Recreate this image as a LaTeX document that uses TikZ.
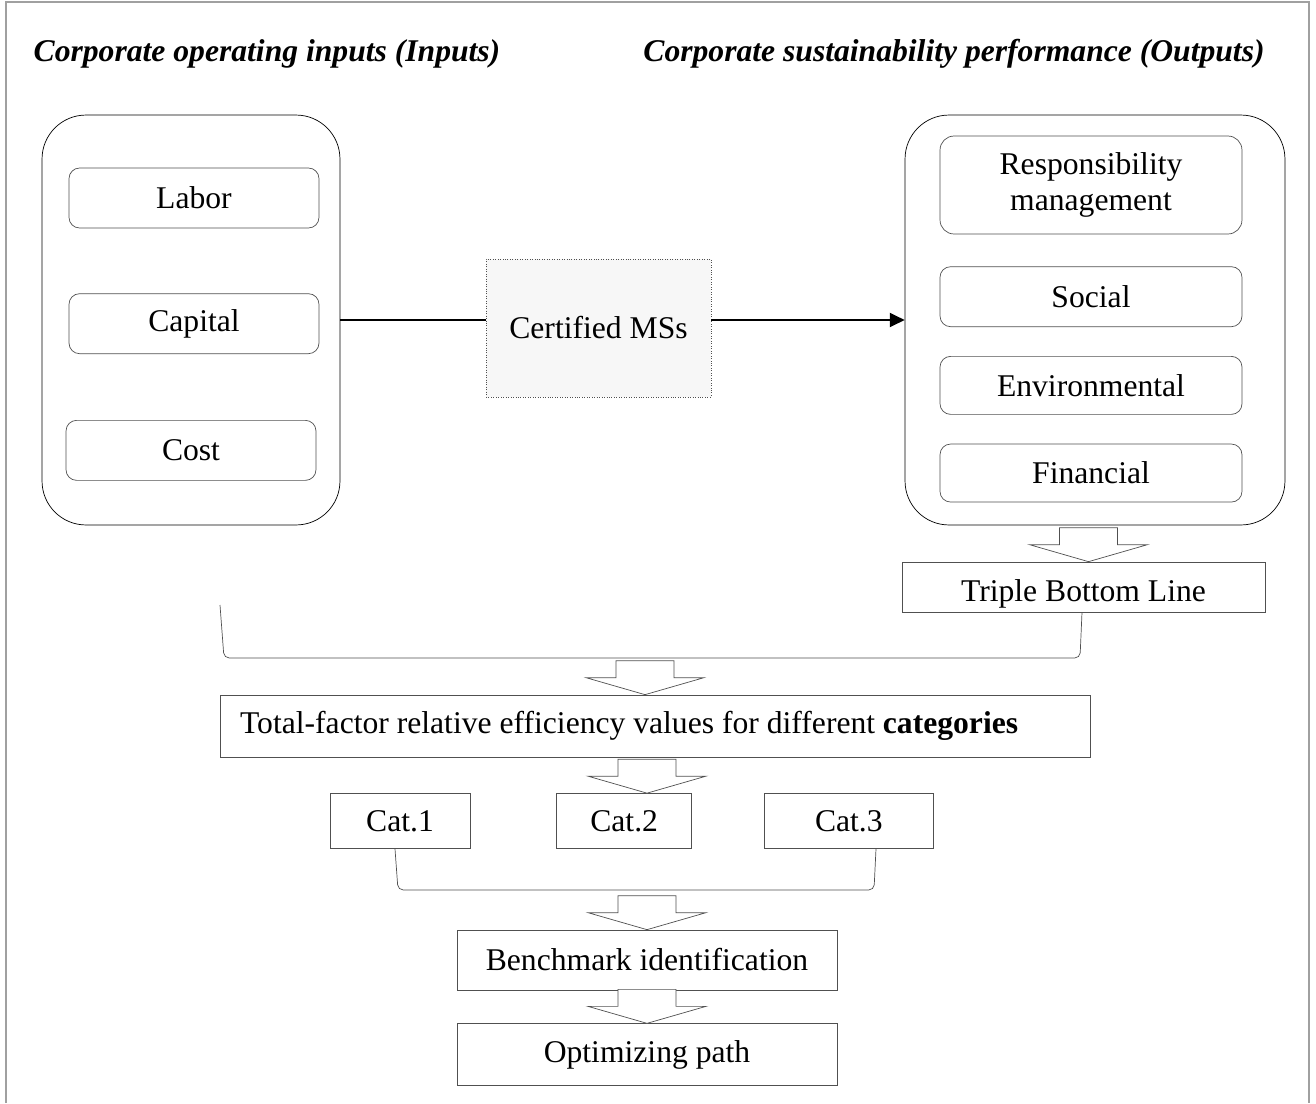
\documentclass[tikz,border=0pt]{standalone}
\usepackage{fontspec}
\setmainfont{Liberation Serif}
\usetikzlibrary{arrows.meta, positioning, calc}
\definecolor{framegray}{RGB}{160,160,160}
\definecolor{linegray}{RGB}{80,80,80}
\definecolor{msfill}{RGB}{247,247,247}
\tikzset{
  bigbox/.style   = {draw, rounded corners=25pt, minimum height=8.2cm},
  itembox/.style  = {draw=linegray, rounded corners=6pt, minimum width=6.04cm,
                     minimum height=1.16cm, align=center},
  plainbox/.style = {draw=linegray, minimum height=1.2cm},
  msbox/.style    = {draw=linegray, densely dotted, fill=msfill,
                     minimum width=4.5cm, minimum height=2.76cm},
  title/.style    = {font=\fontsize{18}{21}\selectfont\bfseries\itshape},
  bracket/.style  = {draw=linegray, rounded corners=3pt},
  arrow/.style    = {-{Triangle[length=8.5pt, width=8pt]}, line width=1pt},
  downarr/.pic    = {
    \draw[draw=linegray, fill=white] (-29,-34) -- (-29,-17) -- (-59,-17)
      -- (0,0) -- (59,-17) -- (29,-17) -- (29,-34) -- cycle;
  },
}

\begin{document}
\begin{tikzpicture}[x=0.02cm, y=-0.02cm,
    every node/.style={font=\fontsize{18}{20.5}\selectfont}]
  \useasboundingbox (0,0) rectangle (1316,1103);
  % frame
  \draw[framegray, line width=0.8pt] (6,1103) -- (6,2) -- (1309,2) -- (1309,1103);

  % headings
  \node[title] (tin)  at (267,54) {Corporate operating inputs (Inputs)};
  \node[title] (tout) at (954,54) {Corporate sustainability performance (Outputs)};

  % inputs
  \node[bigbox, minimum width=5.96cm] (lbox) at (191,320) {};
  \node[itembox, minimum width=5cm, minimum height=1.2cm] (labor) at (194,198) {Labor};
  \node[itembox, minimum width=5cm, minimum height=1.2cm, below=1.3cm of labor] (capital) {Capital};
  \node[itembox, minimum width=5cm, minimum height=1.2cm, below=1.32cm of capital,
        xshift=-0.06cm] (cost) {Cost};

  % management systems
  \node[msbox] (cms) at (598.5,328) {Certified MSs};

  % outputs
  \node[bigbox, minimum width=7.6cm] (rbox) at (1095,320) {};
  \node[itembox, minimum height=1.96cm, rounded corners=8pt] (resp) at (1091,185)
        {Responsibility\\management};
  \node[itembox, minimum height=1.2cm, below=0.64cm of resp] (social) {Social};
  \node[itembox, below=0.58cm of social] (env) {Environmental};
  \node[itembox, below=0.58cm of env] (fin) {Financial};

  \draw[line width=1pt] (lbox.east) -- (lbox.east -| cms.west);
  \draw[arrow] (cms.east |- lbox.east) -- (rbox.west);

  % triple bottom line
  \node[plainbox, minimum width=7.26cm, minimum height=1cm,
        label={[yshift=-0.14cm]center:Triple Bottom Line}] (tbl) at (1083.5,587) {};
  \pic at ($(tbl.north)+(5,0)$) {downarr};

  % joining inputs and outputs
  \coordinate (lin) at (220,605);
  \draw[bracket] (lin) -- (224,658) -- (1080,658) -- (tbl.south -| 1082,0);
  \node[plainbox, minimum width=17.4cm, minimum height=1.24cm, inner xsep=0.4cm] (total)
        at (655,726)
        {\makebox[16.6cm][l]{Total-factor relative efficiency values for different \textbf{categories}}};
  \pic at (total.north -| 645,0) {downarr};

  % categories
  \node[plainbox, minimum width=2.8cm, minimum height=1.1cm] (cat1) at (400,821) {Cat.1};
  \node[plainbox, minimum width=2.7cm, minimum height=1.1cm, right=1.72cm of cat1] (cat2) {Cat.2};
  \node[plainbox, minimum width=3.38cm, minimum height=1.1cm, right=1.44cm of cat2] (cat3) {Cat.3};

  % benchmarking
  \node[plainbox, minimum width=7.6cm] (bench) at (647,960) {Benchmark identification};
  \node[plainbox, minimum width=7.6cm, minimum height=1.24cm, below=0.66cm of bench] (optim)
        {Optimizing path};
  \pic at (cat2.north -| bench.north) {downarr};

  \draw[bracket] (cat1.south -| 395,0) -- (398,890) -- (874,890) -- (cat3.south -| 876,0);
  \pic at (bench.north) {downarr};
  \pic at (optim.north) {downarr};
\end{tikzpicture}
\end{document}
